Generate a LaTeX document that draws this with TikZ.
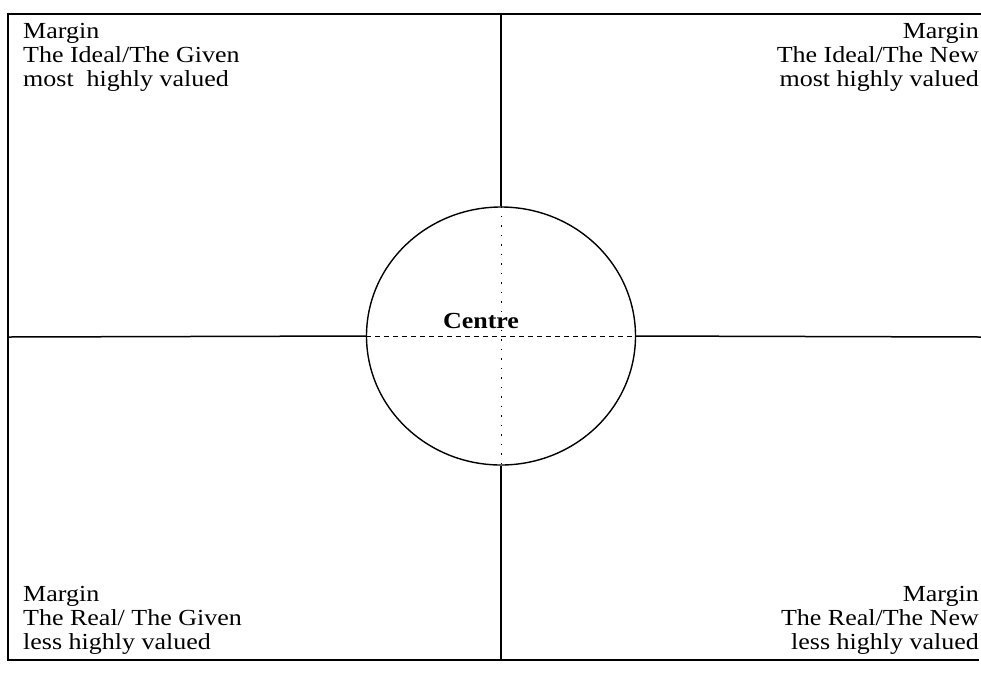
\documentclass[tikz,border=0pt]{standalone}
\usepackage{fontspec}
\setmainfont{Liberation Serif}[FakeStretch=1.13]
\usetikzlibrary{shapes.geometric}
\begin{document}
\begin{tikzpicture}[x=1pt,y=-1pt,
  lbl/.style={inner sep=0pt,font=\fontsize{23}{24}\selectfont},
  frame/.style={line width=2pt},
  axis/.style={line width=1.5pt},
  ring/.style={draw,ellipse,line width=1.4pt,minimum width=269pt,minimum height=258pt,inner sep=0pt}]
\useasboundingbox (0,0) rectangle (981,673);
% frame (top, left, bottom)
\coordinate (tl) at (8,14);
\coordinate (tr) at (981,14);
\coordinate (bl) at (8,660);
\coordinate (br) at (979,660);
\draw[frame] (tr) -- (tl) -- (bl) -- (br);
% centre circle
\node[ring] (c) at (501,336) {};
% axes
\coordinate (vt) at (501,14);
\coordinate (vb) at (501,660);
\coordinate (hl) at (8,337);
\coordinate (hr) at (981,337);
\draw[axis] (vt) -- (c.north);
\draw[axis] (c.south) -- (vb);
\draw[axis] (hl) -- (c.west);
\draw[axis] (c.east) -- (hr);
\draw[line width=1pt,dash pattern=on 5pt off 4pt] (c.west) -- (c.east);
\draw[line width=1pt,dash pattern=on 1.5pt off 8pt] (c.north) -- (c.south);
% texts
\node[lbl,anchor=north west,align=left] (q1) at (23,23.5) {Margin\\The Ideal/The Given\\most\ \ highly valued};
\node[lbl,anchor=north east,align=right] (q2) at (979,23.5) {Margin\\The Ideal/The New\\most highly valued};
\node[lbl,anchor=north west,align=left] (q3) at (23,586) {Margin\\The Real/ The Given\\less highly valued};
\node[lbl,anchor=north east,align=right] (q4) at (979,586) {Margin\\The Real/The New\\less highly valued};
\node[lbl,anchor=base,font=\fontsize{23}{24}\selectfont\bfseries] (ct) at (481,328) {Centre};
\end{tikzpicture}
\end{document}
